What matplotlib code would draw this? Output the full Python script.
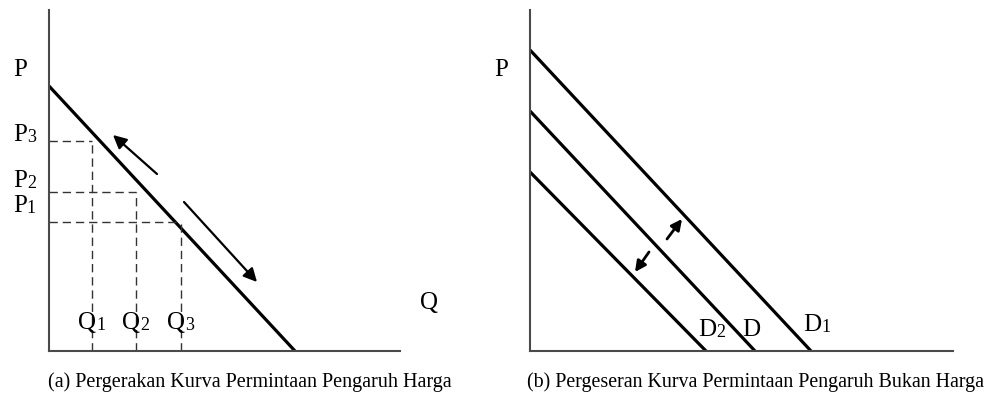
import matplotlib.pyplot as plt

plt.rcParams['font.family'] = ['Liberation Serif', 'DejaVu Serif']

## ========================================================
## Data panel (a) : pergerakan sepanjang kurva permintaan
## ========================================================
kurva_a_q = [0.0, 24.6]          # titik potong sumbu Q
kurva_a_p = [26.5, 0.0]          # titik potong sumbu P
q_titik = [4.3, 8.7, 13.2]       # Q1, Q2, Q3
p_titik = [21.0, 15.9, 12.9]     # P3, P2, P1 (pasangan Q1, Q2, Q3)
q_label = [('Q', '1'), ('Q', '2'), ('Q', '3')]
p_label = [('P', '3'), ('P', '2'), ('P', '1')]
p_label_y = [21.0, 16.4, 13.9]

# panah naik (harga naik) dan turun (harga turun)
panah_a = [((10.8, 17.7), (6.4, 21.6)),
           ((13.5, 14.9), (20.8, 6.9))]

## ========================================================
## Data panel (b) : pergeseran kurva permintaan
## ========================================================
kurva_b_nama = [('D', '1'), ('D', ''), ('D', '2')]
kurva_b_p0 = [30.1, 24.0, 17.9]  # titik potong sumbu P
kurva_b_q0 = [28.1, 22.5, 17.6]  # titik potong sumbu Q
kurva_b_label_x = [27.3, 21.2, 16.8]
kurva_b_label_y = [2.0, 1.5, 1.5]

panah_b = [((13.7, 11.2), (15.2, 13.2)),
           ((11.9, 9.9), (10.5, 7.9))]

W, H = 990, 394
fig = plt.figure(figsize=(W / 100, H / 100), dpi=100)

UKURAN_HURUF = 18
UKURAN_INDEKS = 13

def buat_sumbu(x0, x1, y_top, y_bot, xlim, ylim):
    ax = fig.add_axes([x0 / W, (H - y_bot) / H, (x1 - x0) / W, (y_bot - y_top) / H])
    ax.set_xlim(0, xlim)
    ax.set_ylim(0, ylim)
    for s in ['top', 'right']:
        ax.spines[s].set_visible(False)
    for s in ['left', 'bottom']:
        ax.spines[s].set_color('#4a4a4a')
        ax.spines[s].set_linewidth(1.5)
    ax.set_xticks([]); ax.set_yticks([])
    ax.patch.set_alpha(0)
    return ax

## huruf + indeks kecil (indeks duduk hampir di garis dasar)
def tulis_label(ax, x, y, huruf, indeks, ha='left'):
    t = ax.text(x, y, huruf, fontsize=UKURAN_HURUF, ha=ha, va='baseline', clip_on=False)
    if indeks:
        ax.annotate(indeks, xy=(1, 0), xycoords=t, fontsize=UKURAN_INDEKS,
                    ha='left', va='bottom', annotation_clip=False)
    return t

## ---------------- panel (a) ----------------
ax1 = buat_sumbu(49, 400, 10, 351, 35.1, 34.1)
ax1.plot(kurva_a_q, kurva_a_p, color='black', lw=2.3, solid_capstyle='butt')

for q, p in zip(q_titik, p_titik):
    ax1.plot([0, q], [p, p], ls=(0, (6, 3.5)), color='#333333', lw=1.0)
    ax1.plot([q, q], [0, p], ls=(0, (6, 3.5)), color='#333333', lw=1.0)

for (x0, y0), (x1, y1) in panah_a:
    ax1.annotate('', xy=(x1, y1), xytext=(x0, y0),
                 arrowprops=dict(arrowstyle='-|>', color='black', lw=1.6,
                                 mutation_scale=20, shrinkA=0, shrinkB=0))

for q, (h, i) in zip(q_titik, q_label):
    tulis_label(ax1, q - 1.4, 2.2, h, i)
for y, (h, i) in zip(p_label_y, p_label):
    tulis_label(ax1, -3.6, y, h, i)
tulis_label(ax1, -3.6, 27.5, 'P', '')
ax1.text(38.0, 4.8, 'Q', fontsize=UKURAN_HURUF, ha='center', va='center', clip_on=False)

## ---------------- panel (b) ----------------
ax2 = buat_sumbu(530, 953, 10, 351, 42.3, 34.1)
for p0, q0 in zip(kurva_b_p0, kurva_b_q0):
    ax2.plot([0, q0], [p0, 0], color='black', lw=2.3, solid_capstyle='butt')

for (x0, y0), (x1, y1) in panah_b:
    ax2.annotate('', xy=(x1, y1), xytext=(x0, y0),
                 arrowprops=dict(arrowstyle='-|>', color='black', lw=2.0,
                                 mutation_scale=16, shrinkA=0, shrinkB=0))

for (h, i), lx, ly in zip(kurva_b_nama, kurva_b_label_x, kurva_b_label_y):
    tulis_label(ax2, lx, ly, h, i)
tulis_label(ax2, -3.6, 27.5, 'P', '')

## ---------------- keterangan ----------------
fig.text(48 / W, (H - 387) / H, '(a) Pergerakan Kurva Permintaan Pengaruh Harga',
         fontsize=14.5, ha='left', va='baseline')
fig.text(527 / W, (H - 387) / H, '(b) Pergeseran Kurva Permintaan Pengaruh Bukan Harga',
         fontsize=14.4, ha='left', va='baseline')

fig.savefig('out.png', dpi=100, facecolor='white')
